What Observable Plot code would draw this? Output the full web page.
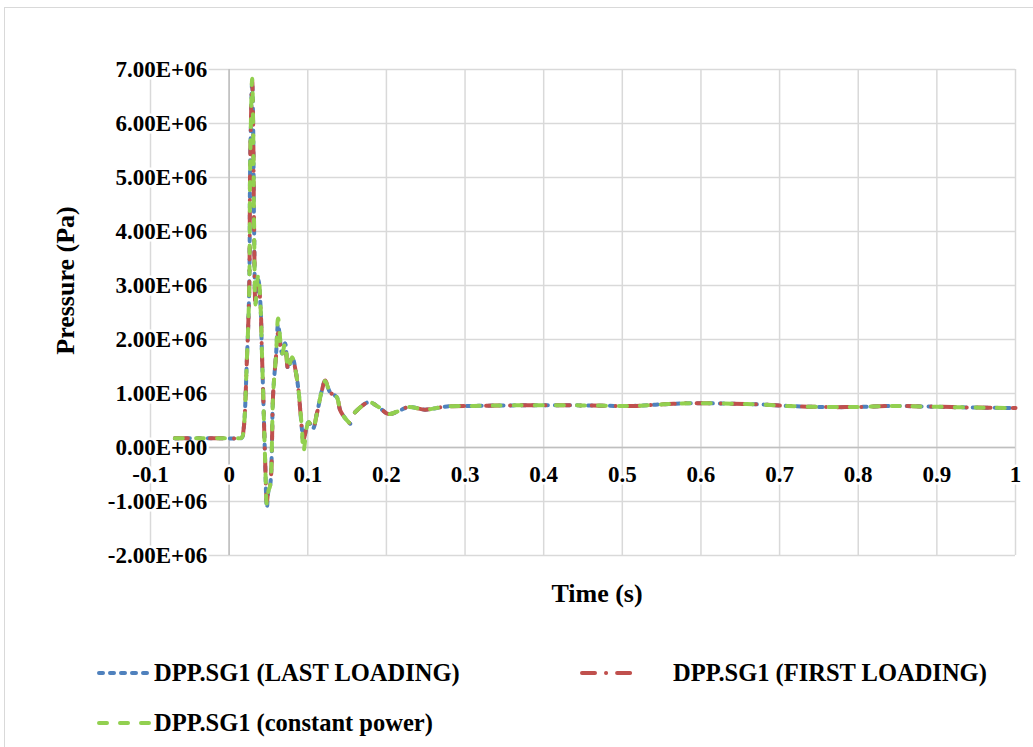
<!DOCTYPE html>
<html><head><meta charset="utf-8">
<script src="https://cdn.jsdelivr.net/npm/d3@7"></script>
<script src="https://cdn.jsdelivr.net/npm/@observablehq/plot@0.6"></script>
<style>
body{margin:0;background:#fff;overflow:hidden;font-family:"Liberation Serif","Times New Roman",serif;}
#wrap{position:relative;width:1033px;height:747px;overflow:hidden;}
#frame{position:absolute;left:4px;top:7px;width:1100px;height:800px;border:1px solid #d9d9d9;box-sizing:border-box;}
#chart{position:absolute;left:0;top:0;}
#legend{position:absolute;left:0;top:640px;width:1033px;height:107px;}
.item{position:absolute;display:flex;align-items:center;font-weight:bold;font-size:24.5px;color:#000;white-space:nowrap;height:30px;}
.item svg{margin-right:3px;}
</style></head>
<body><div id="wrap"><div id="frame"></div><div id="chart"></div><div id="legend"></div></div>
<script>
// Time (s)
const time = [-0.069, -0.04, -0.01, 0.010, 0.016, 0.0185, 0.0225, 0.0255, 0.0268, 0.0293,
  0.0305, 0.0318, 0.0335, 0.0355, 0.0372, 0.0400, 0.0416, 0.0433, 0.0458, 0.048,
  0.050, 0.052, 0.056, 0.0598, 0.0623, 0.0674, 0.0712, 0.075, 0.080, 0.0865,
  0.0925, 0.0945, 0.1009, 0.1065, 0.1116, 0.118, 0.1221, 0.1285, 0.137, 0.1412,
  0.1476, 0.154, 0.157, 0.160, 0.1772, 0.190, 0.2027, 0.2176, 0.228, 0.249,
  0.2595, 0.277, 0.311, 0.361, 0.4466, 0.514, 0.552, 0.5865, 0.641, 0.671,
  0.7095, 0.756, 0.7986, 0.841, 0.883, 0.9466, 1.0];

// Pressure (Pa)
const lastLoading = [1.7e5, 1.7e5, 1.7e5, 1.7e5, 1.8e5, 3.5e5, 1.6e6, 2.9e6, 5.3e6, 6.78e6,
  6.0e6, 4.0e6, 2.65e6, 3.0e6, 3.1e6, 2.6e6, 1.8e6, 1.0e6, -2.5e5, -1.12e6,
  -8.0e5, -7.2e5, 1.0e6, 1.75e6, 2.28e6, 1.74e6, 1.93e6, 1.46e6, 1.67e6, 1.25e6,
  3.5e5, 1.2e5, 4.7e5, 3.5e5, 6.3e5, 1.06e6, 1.23e6, 1.02e6, 9.3e5, 6.9e5,
  5.4e5, 4.4e5, null, 6.5e5, 8.4e5, 7.5e5, 6.2e5, 6.9e5, 7.5e5, 7.0e5,
  7.2e5, 7.6e5, 7.7e5, 7.8e5, 7.8e5, 7.7e5, 8.0e5, 8.2e5, 8.1e5, 8.0e5,
  7.7e5, 7.5e5, 7.5e5, 7.7e5, 7.6e5, 7.4e5, 7.3e5];

const firstLoading = [1.7e5, 1.7e5, 1.7e5, 1.7e5, 1.8e5, 3.5e5, 1.6e6, 2.9e6, 5.3e6, 6.8e6,
  6.0e6, 4.0e6, 2.65e6, 2.95e6, 3.0e6, 2.6e6, 1.8e6, 1.0e6, -2.5e5, -1.0e6,
  -7.8e5, -7.2e5, 1.0e6, 1.72e6, 2.12e6, 1.74e6, 1.85e6, 1.46e6, 1.65e6, 1.25e6,
  3.5e5, 1.4e5, 4.7e5, 3.6e5, 6.3e5, 1.06e6, 1.24e6, 1.02e6, 9.3e5, 6.9e5,
  5.4e5, 4.4e5, null, 6.5e5, 8.4e5, 7.5e5, 6.2e5, 6.9e5, 7.5e5, 7.0e5,
  7.2e5, 7.6e5, 7.7e5, 7.8e5, 7.8e5, 7.7e5, 8.0e5, 8.2e5, 8.1e5, 8.0e5,
  7.7e5, 7.5e5, 7.5e5, 7.7e5, 7.6e5, 7.4e5, 7.3e5];

const constantPower = [1.7e5, 1.7e5, 1.7e5, 1.7e5, 1.8e5, 3.5e5, 1.6e6, 2.9e6, 5.3e6, 6.83e6,
  6.0e6, 4.0e6, 2.65e6, 3.05e6, 3.2e6, 2.6e6, 1.8e6, 1.0e6, -2.5e5, -1.05e6,
  -8.0e5, -7.2e5, 1.0e6, 1.75e6, 2.39e6, 1.74e6, 1.93e6, 1.46e6, 1.67e6, 1.25e6,
  3.5e5, -8.0e4, 4.7e5, 3.5e5, 6.3e5, 1.06e6, 1.23e6, 1.02e6, 9.3e5, 6.9e5,
  5.4e5, 4.4e5, null, 6.5e5, 8.4e5, 7.5e5, 6.2e5, 6.9e5, 7.5e5, 7.0e5,
  7.2e5, 7.6e5, 7.7e5, 7.8e5, 7.8e5, 7.7e5, 8.0e5, 8.2e5, 8.1e5, 8.0e5,
  7.7e5, 7.5e5, 7.5e5, 7.7e5, 7.6e5, 7.4e5, 7.3e5];

const seriesNames = ["DPP.SG1 (LAST LOADING)", "DPP.SG1 (FIRST LOADING)", "DPP.SG1 (constant power)"];

const xTicks = [-0.1, 0, 0.1, 0.2, 0.3, 0.4, 0.5, 0.6, 0.7, 0.8, 0.9, 1];
const xTickLabels = ["-0.1", "0", "0.1", "0.2", "0.3", "0.4", "0.5", "0.6", "0.7", "0.8", "0.9", "1"];
const yTicks = [-2e6, -1e6, 0, 1e6, 2e6, 3e6, 4e6, 5e6, 6e6, 7e6];
const yTickLabels = ["-2.00E+06", "-1.00E+06", "0.00E+00", "1.00E+06", "2.00E+06", "3.00E+06", "4.00E+06", "5.00E+06", "6.00E+06", "7.00E+06"];

const xTitle = "Time (s)";
const yTitle = "Pressure (Pa)";

const styles = [
  {color: "#4f81bd", dash: "4,7"},
  {color: "#c0504d", dash: "13,11,0.1,11"},
  {color: "#92d050", dash: "8,13"}
];

const rows = (vals) => time.map((t, i) => ({t, v: vals[i]}));
const allSeries = [lastLoading, firstLoading, constantPower];

const font = "Liberation Serif, Times New Roman, serif";
const xt = xTicks.map((v, i) => ({v, label: xTickLabels[i]}));
const yt = yTicks.map((v, i) => ({v, label: yTickLabels[i]}));

const chart = Plot.plot({
  width: 1033, height: 640,
  marginLeft: 150, marginRight: 18, marginTop: 69, marginBottom: 85,
  x: {domain: [-0.1, 1], axis: null},
  y: {domain: [-2e6, 7e6], axis: null},
  style: {fontFamily: font, background: "transparent", overflow: "visible"},
  marks: [
    Plot.ruleX(xTicks, {stroke: "#d9d9d9", strokeWidth: 1.5, strokeOpacity: 1}),
    Plot.ruleY(yTicks, {stroke: "#d9d9d9", strokeWidth: 1.5, strokeOpacity: 1}),
    Plot.ruleX([0], {stroke: "#bfbfbf", strokeWidth: 1.5, strokeOpacity: 1}),
    Plot.ruleY([0], {stroke: "#bfbfbf", strokeWidth: 1.5, strokeOpacity: 1}),
    Plot.text(yt, {x: () => 0, y: "v", text: "label", textAnchor: "end", dx: -22,
      fontSize: 23, fontWeight: "bold", fill: "#000", stroke: "white", strokeWidth: 5}),
    Plot.text(xt, {x: "v", y: () => 0, text: "label", dy: 27,
      fontSize: 23, fontWeight: "bold", fill: "#000", stroke: "white", strokeWidth: 5}),
    ...allSeries.map((vals, k) => Plot.line(rows(vals), {
      x: "t", y: "v", stroke: styles[k].color, strokeWidth: 4,
      strokeDasharray: styles[k].dash, strokeLinecap: "round", curve: "catmull-rom"
    })),
    Plot.text([yTitle], {text: d => d, frameAnchor: "left", textAnchor: "middle", lineAnchor: "middle",
      dx: -85, dy: -32, rotate: -90, fontSize: 26, fontWeight: "bold", fill: "#000"}),
    Plot.text([xTitle], {text: d => d, frameAnchor: "bottom", textAnchor: "middle", lineAnchor: "middle",
      dx: 14, dy: 38, fontSize: 26, fontWeight: "bold", fill: "#000"})
  ]
});
document.getElementById("chart").appendChild(chart);

// legend
const legendPos = [{left: 97, top: 18}, {left: 580, top: 18}, {left: 97, top: 68}];
const legend = document.getElementById("legend");
seriesNames.forEach((name, k) => {
  const d = document.createElement("div");
  d.className = "item";
  d.style.left = legendPos[k].left + "px";
  d.style.top = legendPos[k].top + "px";
  const w = k === 1 ? 90 : 54;
  d.innerHTML = `<svg width="${w}" height="10"><line x1="2" y1="5" x2="${k === 1 ? 55 : 52}" y2="5" stroke="${styles[k].color}" stroke-width="4" stroke-dasharray="${styles[k].dash}" stroke-linecap="round"/></svg><span>${name}</span>`;
  legend.appendChild(d);
});
</script>
</body></html>
